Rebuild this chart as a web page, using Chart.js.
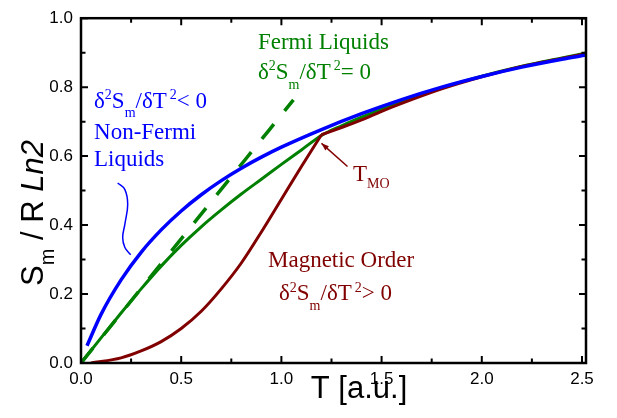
<!DOCTYPE html>
<html>
<head>
<meta charset="utf-8">
<script src="https://cdn.jsdelivr.net/npm/chart.js@4.4.1/dist/chart.umd.min.js"></script>
<style>
  body { margin: 0; background: #fff; }
  canvas { display: block; }
</style>
</head>
<body>
<canvas id="chart" width="617" height="418"></canvas>
<script>
// values: T [a.u.] and S_m / R ln2
const blueT = [0.03, 0.1, 0.2, 0.3, 0.4, 0.5, 0.6, 0.7, 0.8, 0.9, 1.0, 1.2, 1.4, 1.6, 1.8, 2.0, 2.2, 2.4, 2.52];
const blueS = [0.05, 0.141, 0.241, 0.321, 0.386, 0.441, 0.488, 0.529, 0.565, 0.597, 0.626, 0.677, 0.723, 0.764, 0.8, 0.831, 0.858, 0.881, 0.893];

const greenT = [0, 0.1, 0.2, 0.3, 0.4, 0.5, 0.6, 0.7, 0.8, 0.9, 1.0, 1.1, 1.2, 1.3, 1.4, 1.6, 1.8, 2.0, 2.2, 2.4, 2.52];
const greenS = [0, 0.073, 0.145, 0.215, 0.281, 0.341, 0.395, 0.444, 0.49, 0.533, 0.576, 0.618, 0.66, 0.688, 0.713, 0.759, 0.798, 0.832, 0.861, 0.885, 0.899];

const dashT = [0, 1.06];
const dashS = [0, 0.763];

const redLowT = [0.05, 0.2, 0.3, 0.4, 0.5, 0.6, 0.7, 0.8, 0.9, 1.0, 1.1, 1.2];
const redLowS = [0, 0.015, 0.035, 0.062, 0.1, 0.15, 0.215, 0.29, 0.38, 0.475, 0.57, 0.662];
const redHighT = [1.2, 1.3, 1.4, 1.5, 1.6, 1.8, 2.0, 2.2, 2.4, 2.52];
const redHighS = [0.662, 0.683, 0.705, 0.73, 0.753, 0.795, 0.83, 0.86, 0.883, 0.897];

// thin wavy pointer from the Non-Fermi label to the blue curve
const pointerT = [0.183, 0.219, 0.233, 0.219, 0.208, 0.219, 0.248];
const pointerS = [0.522, 0.503, 0.46, 0.403, 0.364, 0.335, 0.314];

const xTickLabels = ['0.0', '0.5', '1.0', '1.5', '2.0', '2.5'];
const yTickLabels = ['0.0', '0.2', '0.4', '0.6', '0.8', '1.0'];

const BLUE = '#0000ff', GREEN = '#008000', RED = '#800000';
const SERIF = '"Liberation Serif", "Times New Roman", serif';
const SANS = '"Liberation Sans", Arial, sans-serif';

const pts = (xs, ys) => xs.map((x, i) => ({ x: x, y: ys[i] }));

function labelFor(list, v) {
  const hit = list.find(l => Math.abs(parseFloat(l) - v) < 1e-6);
  return hit || '';
}

// draws a line of text with super/subscripts, returns its width
function rich(ctx, x, y, parts, size, family, dry) {
  let cx = x;
  for (const p of parts) {
    const small = p.sup || p.sub;
    const fs = small ? Math.round(size * (p.scale || 0.62)) : size;
    ctx.font = (p.italic ? 'italic ' : '') + fs + 'px ' + family;
    const dy = p.sup ? -size * 0.38 : p.sub ? (p.drop || size * 0.42) : 0;
    if (!dry) ctx.fillText(p.t, cx, y + dy);
    cx += ctx.measureText(p.t).width + (p.gap || 0);
  }
  return cx - x;
}

const formula = tail => [
  { t: 'δ' }, { t: '2', sup: true }, { t: 'S' }, { t: 'm', sub: true },
  { t: '/δT', gap: 3 }, { t: '2', sup: true }, { t: tail }
];

const decor = {
  id: 'decor',
  afterDatasetsDraw(chart) {
    const ctx = chart.ctx;
    const a = chart.chartArea;
    const xs = chart.scales.x, ys = chart.scales.y;
    ctx.save();

    // frame
    ctx.strokeStyle = '#000';
    ctx.lineWidth = 2.5;
    ctx.strokeRect(a.left, a.top, a.right - a.left, a.bottom - a.top);

    // inward ticks on all four sides
    ctx.lineWidth = 2;
    ctx.beginPath();
    xs.ticks.forEach(t => {
      const px = xs.getPixelForValue(t.value);
      const len = t.label ? 7 : 4.5;
      ctx.moveTo(px, a.bottom); ctx.lineTo(px, a.bottom - len);
      ctx.moveTo(px, a.top); ctx.lineTo(px, a.top + len);
    });
    ys.ticks.forEach(t => {
      const py = ys.getPixelForValue(t.value);
      const len = t.label ? 7 : 4.5;
      ctx.moveTo(a.left, py); ctx.lineTo(a.left + len, py);
      ctx.moveTo(a.right, py); ctx.lineTo(a.right - len, py);
    });
    ctx.stroke();

    // axis titles
    ctx.fillStyle = '#000';
    ctx.textBaseline = 'alphabetic';
    ctx.textAlign = 'center';
    ctx.font = '31px ' + SANS;
    ctx.fillText('T [a.u.]', 359, 398);

    ctx.textAlign = 'left';
    const yTitle = [
      { t: 'S' }, { t: 'm', sub: true, scale: 0.65, drop: 11 },
      { t: ' / R ' }, { t: 'Ln2', italic: true }
    ];
    ctx.save();
    ctx.translate(43, 213);
    ctx.rotate(-Math.PI / 2);
    const w = rich(ctx, 0, 0, yTitle, 31, SANS, true);
    rich(ctx, -w / 2, 0, yTitle, 31, SANS);
    ctx.restore();

    // annotations
    const X = v => xs.getPixelForValue(v), Y = v => ys.getPixelForValue(v);
    ctx.fillStyle = GREEN;
    ctx.font = '23px ' + SERIF;
    ctx.fillText('Fermi Liquids', X(0.883), Y(0.911));
    rich(ctx, X(0.883), Y(0.824), formula('= 0'), 23, SERIF);

    ctx.fillStyle = BLUE;
    rich(ctx, X(0.065), Y(0.741), formula('< 0'), 23, SERIF);
    ctx.font = '23px ' + SERIF;
    ctx.fillText('Non-Fermi', X(0.065), Y(0.651));
    ctx.fillText('Liquids', X(0.065), Y(0.571));

    ctx.fillStyle = RED;
    ctx.fillText('Magnetic Order', X(0.933), Y(0.277));
    rich(ctx, X(0.988), Y(0.182), formula('> 0'), 23, SERIF);
    rich(ctx, X(1.357), Y(0.527), [{ t: 'T' }, { t: 'MO', sub: true, drop: 7, scale: 0.6 }], 23, SERIF);

    // T_MO arrow
    const tipX = X(1.20), tipY = Y(0.637), tailX = X(1.33), tailY = Y(0.57);
    ctx.strokeStyle = RED;
    ctx.lineWidth = 1.5;
    ctx.beginPath();
    ctx.moveTo(tailX, tailY); ctx.lineTo(tipX, tipY);
    ctx.stroke();
    const ang = Math.atan2(tipY - tailY, tipX - tailX);
    ctx.beginPath();
    ctx.moveTo(tipX, tipY);
    ctx.lineTo(tipX - 8 * Math.cos(ang - 0.35), tipY - 8 * Math.sin(ang - 0.35));
    ctx.lineTo(tipX - 8 * Math.cos(ang + 0.35), tipY - 8 * Math.sin(ang + 0.35));
    ctx.closePath();
    ctx.fill();

    ctx.restore();
  }
};

const line = (data, color, width, extra) => Object.assign({
  data: data, borderColor: color, backgroundColor: color, borderWidth: width,
  showLine: true, pointRadius: 0, fill: false, cubicInterpolationMode: 'monotone'
}, extra || {});

new Chart(document.getElementById('chart'), {
  type: 'scatter',
  data: {
    // first dataset is painted last (on top)
    datasets: [
      line(pts(blueT, blueS), BLUE, 3.5),
      line(pts(pointerT, pointerS), BLUE, 1.5, { cubicInterpolationMode: 'default', tension: 0.4 }),
      line(pts(redLowT, redLowS), RED, 3),
      line(pts(redHighT, redHighS), RED, 3),
      line(pts(dashT, dashS), GREEN, 3.5, { borderDash: [19, 17] }),
      line(pts(greenT, greenS), GREEN, 3)
    ]
  },
  options: {
    responsive: false,
    animation: false,
    devicePixelRatio: 1,
    layout: { padding: { top: 16, right: 31, left: 0, bottom: 0 } },
    plugins: { legend: { display: false }, tooltip: { enabled: false } },
    scales: {
      x: {
        type: 'linear', min: 0, max: 2.52,
        grid: { display: false, drawTicks: false }, border: { display: false },
        afterFit: s => { s.height = 55; },
        ticks: {
          stepSize: 0.25, includeBounds: false, autoSkip: false, maxRotation: 0,
          padding: 6, color: '#000', font: { family: SANS, size: 17 },
          callback: v => labelFor(xTickLabels, v)
        }
      },
      y: {
        min: 0, max: 1.0,
        grid: { display: false, drawTicks: false }, border: { display: false },
        afterFit: s => { s.width = 81; },
        ticks: {
          stepSize: 0.1, includeBounds: false, autoSkip: false,
          padding: 8, color: '#000', font: { family: SANS, size: 17 },
          callback: v => labelFor(yTickLabels, v)
        }
      }
    }
  },
  plugins: [decor]
});
</script>
</body>
</html>
